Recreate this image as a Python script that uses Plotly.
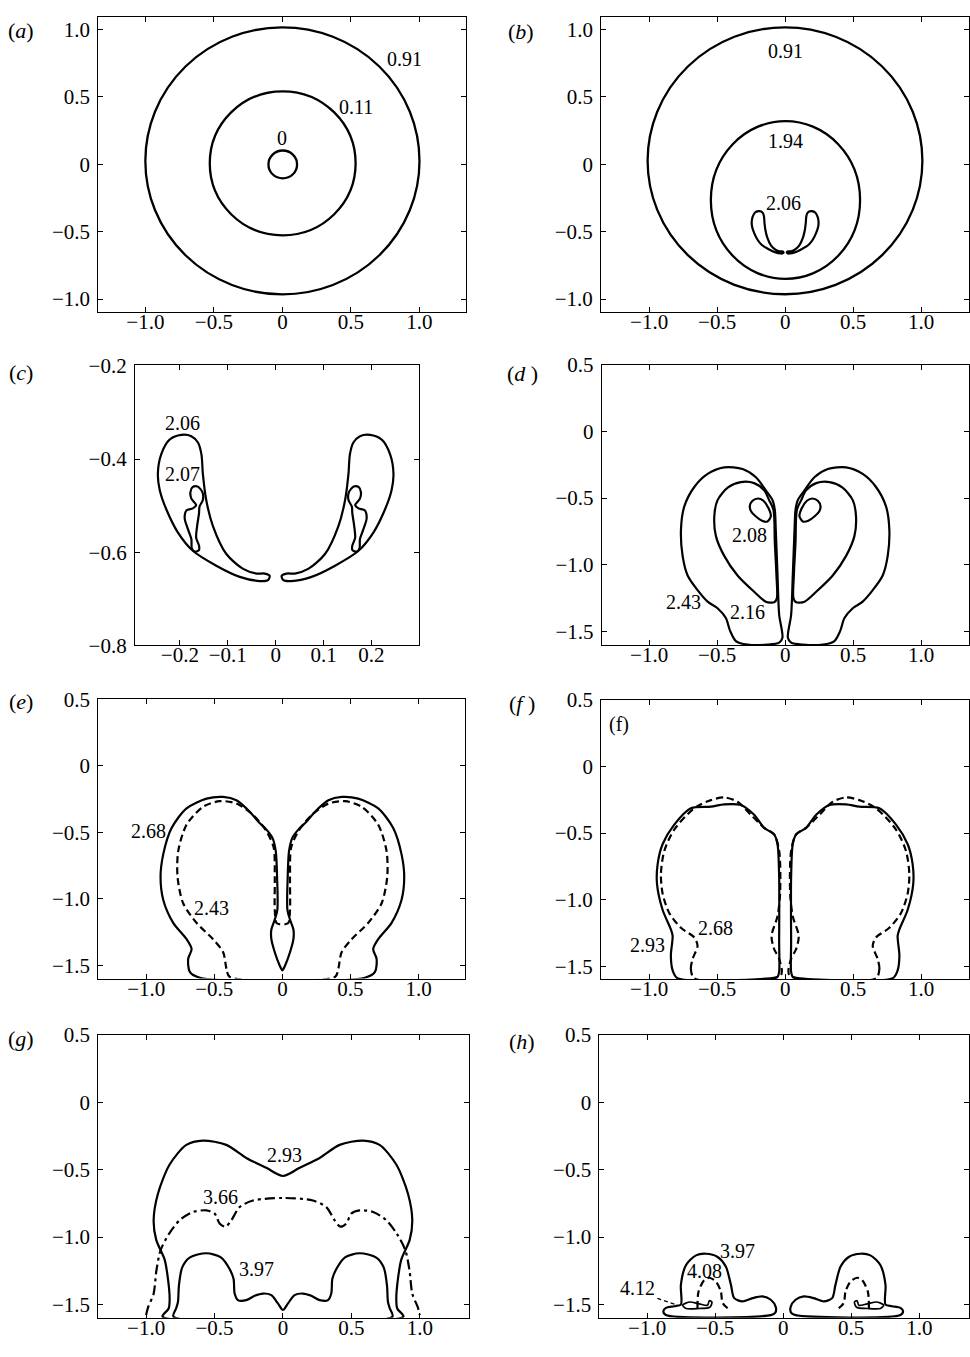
import plotly.graph_objects as go

W, H = 970, 1357
FONT = "Liberation Serif"

# ---------------------------------------------------------------------------
# Contour data (x, y).  Symmetric fronts are stored as their left half only;
# the right half is the mirror image x -> -x.
# ---------------------------------------------------------------------------

# (a) circular contours: x0, x1, y0, y1
a_circle_091 = [-1.000, 1.000, -0.965, 1.015]
a_circle_011 = [-0.530, 0.534, -0.527, 0.541]
a_circle_000 = [-0.102, 0.107, -0.104, 0.102]

# (b) circular contours
b_circle_091 = [-1.011, 1.009, -0.964, 1.015]
b_circle_194 = [-0.546, 0.551, -0.850, 0.320]

# (c) level 2.06, left lobe (also drawn in (b))
c206_x = [-0.197, -0.221, -0.239, -0.246, -0.242, -0.228, -0.204, -0.173, -0.124, -0.075,
          -0.033, -0.016, -0.0125, -0.023, -0.040, -0.068, -0.103, -0.131, -0.145, -0.152,
          -0.155, -0.162, -0.176, -0.197]
c206_y = [-0.348, -0.358, -0.390, -0.432, -0.467, -0.509, -0.558, -0.597, -0.629, -0.653,
          -0.662, -0.660, -0.651, -0.646, -0.646, -0.636, -0.604, -0.544, -0.488, -0.432,
          -0.390, -0.365, -0.351, -0.348]
# (c) level 2.07, left lobe
c207_x = [-0.163, -0.153, -0.152, -0.159, -0.160, -0.164, -0.166, -0.160, -0.160, -0.169,
          -0.175, -0.176, -0.183, -0.190, -0.186, -0.173, -0.166, -0.176, -0.178, -0.173, -0.163]
c207_y = [-0.459, -0.471, -0.488, -0.502, -0.516, -0.544, -0.569, -0.586, -0.595, -0.599,
          -0.592, -0.572, -0.551, -0.527, -0.510, -0.506, -0.499, -0.485, -0.471, -0.460, -0.459]

# (d) levels 2.43, 2.16, 2.08 (left lobes)
d243_x = [-0.020, -0.044, -0.056, -0.069, -0.076, -0.093, -0.142, -0.215, -0.313, -0.448,
          -0.570, -0.668, -0.742, -0.766, -0.754, -0.717, -0.644, -0.570, -0.497, -0.436,
          -0.404, -0.362, -0.277, -0.130, -0.044, -0.020]
d243_y = [-1.546, -1.374, -1.080, -0.736, -0.589, -0.515, -0.442, -0.344, -0.282, -0.270,
          -0.319, -0.417, -0.564, -0.736, -0.933, -1.080, -1.190, -1.276, -1.325, -1.399,
          -1.497, -1.571, -1.598, -1.598, -1.583, -1.546]
d216_x = [-0.326, -0.420, -0.497, -0.521, -0.509, -0.448, -0.350, -0.228, -0.142, -0.081,
          -0.061, -0.064, -0.076, -0.086, -0.118, -0.154, -0.228, -0.326]
d216_y = [-0.380, -0.420, -0.515, -0.638, -0.785, -0.933, -1.080, -1.202, -1.276, -1.281,
          -1.251, -1.080, -0.834, -0.589, -0.515, -0.442, -0.388, -0.380]
d208_x = [-0.260, -0.240, -0.200, -0.160, -0.120, -0.105, -0.130, -0.170, -0.215, -0.250, -0.260]
d208_y = [-0.560, -0.520, -0.503, -0.520, -0.580, -0.635, -0.675, -0.670, -0.638, -0.600, -0.560]

# (e) level 2.68 (solid) and 2.43 (dashed): bottom-left -> centre line
e268_x = [-0.606, -0.680, -0.692, -0.667, -0.704, -0.802, -0.875, -0.895, -0.875, -0.814,
          -0.704, -0.557, -0.435, -0.338, -0.240, -0.178, -0.117, -0.073, -0.049, -0.039,
          -0.037, -0.056, -0.081, -0.081, -0.056, -0.020, 0.000]
e268_y = [-1.592, -1.548, -1.450, -1.376, -1.302, -1.179, -1.007, -0.835, -0.663, -0.467,
          -0.319, -0.246, -0.233, -0.258, -0.344, -0.418, -0.479, -0.541, -0.639, -0.835,
          -1.081, -1.155, -1.229, -1.302, -1.400, -1.499, -1.536]
e243_x = [-0.387, -0.411, -0.435, -0.509, -0.631, -0.729, -0.770, -0.765, -0.704, -0.582,
          -0.460, -0.338, -0.215, -0.117, -0.064, -0.056, -0.056, -0.044, -0.020]
e243_y = [-1.585, -1.523, -1.400, -1.302, -1.179, -1.032, -0.835, -0.639, -0.442, -0.307,
          -0.265, -0.283, -0.369, -0.491, -0.614, -0.835, -1.081, -1.179, -1.190]

# (f) level 2.93 (solid) and 2.68 (dashed), left lobes
f293_x = [-0.791, -0.827, -0.840, -0.827, -0.840, -0.901, -0.942, -0.937, -0.901, -0.815,
          -0.693, -0.546, -0.448, -0.326, -0.228, -0.154, -0.081, -0.056, -0.044, -0.044,
          -0.044, -0.056, -0.105, -0.791]
f293_y = [-1.588, -1.529, -1.418, -1.271, -1.222, -1.075, -0.879, -0.731, -0.584, -0.437,
          -0.314, -0.302, -0.285, -0.290, -0.363, -0.461, -0.510, -0.584, -0.829, -1.320,
          -1.541, -1.578, -1.588, -1.588]
f268_x = [-0.668, -0.693, -0.680, -0.644, -0.668, -0.766, -0.852, -0.901, -0.913, -0.888,
          -0.815, -0.668, -0.546, -0.448, -0.350, -0.252, -0.154, -0.081, -0.044, -0.037,
          -0.056, -0.100, -0.081, -0.044, -0.032, -0.668]
f268_y = [-1.590, -1.517, -1.443, -1.345, -1.283, -1.210, -1.099, -0.952, -0.805, -0.633,
          -0.474, -0.314, -0.253, -0.233, -0.265, -0.363, -0.461, -0.510, -0.633, -0.952,
          -1.124, -1.271, -1.369, -1.443, -1.566, -1.590]

# (g) levels 2.93 (solid), 3.66 (dash-dot), 3.97 (solid): bottom-left -> centre line
g293_x = [-0.880, -0.835, -0.828, -0.840, -0.865, -0.926, -0.945, -0.914, -0.828, -0.706,
          -0.585, -0.414, -0.268, -0.122, 0.000]
g293_y = [-1.590, -1.530, -1.458, -1.312, -1.166, -1.021, -0.875, -0.680, -0.462, -0.316,
          -0.284, -0.316, -0.413, -0.486, -0.547]
g366_x = [-1.000, -0.985, -0.945, -0.925, -0.895, -0.835, -0.755, -0.658, -0.560, -0.499,
          -0.463, -0.419, -0.377, -0.317, -0.219, 0.000]
g366_y = [-1.578, -1.520, -1.420, -1.250, -1.100, -0.980, -0.875, -0.814, -0.802, -0.826,
          -0.899, -0.923, -0.875, -0.778, -0.729, -0.710]
g397_x = [-0.800, -0.780, -0.767, -0.760, -0.736, -0.682, -0.560, -0.451, -0.390, -0.361,
          -0.353, -0.329, -0.268, -0.207, -0.146, -0.085, -0.037, 0.000]
g397_y = [-1.590, -1.528, -1.480, -1.358, -1.225, -1.152, -1.120, -1.152, -1.237, -1.310,
          -1.419, -1.468, -1.468, -1.436, -1.419, -1.431, -1.492, -1.541]

# (h) levels 3.97 (solid), 4.08 (dashed), 4.12 (solid), left lobes
h397_x = [-0.881, -0.862, -0.800, -0.752, -0.752, -0.715, -0.641, -0.568, -0.482, -0.421,
          -0.384, -0.360, -0.299, -0.225, -0.152, -0.091, -0.054, -0.059, -0.091, -0.862, -0.881]
h397_y = [-1.550, -1.525, -1.513, -1.501, -1.355, -1.209, -1.136, -1.124, -1.148, -1.221,
          -1.355, -1.453, -1.477, -1.453, -1.440, -1.465, -1.520, -1.562, -1.579, -1.579, -1.550]
h408_x = [-0.630, -0.622, -0.580, -0.543, -0.494, -0.458, -0.445, -0.397]
h408_y = [-1.526, -1.404, -1.319, -1.302, -1.331, -1.404, -1.489, -1.538]
h412_x = [-0.739, -0.690, -0.617, -0.556, -0.543, -0.524, -0.539, -0.617, -0.715, -0.739]
h412_y = [-1.506, -1.482, -1.496, -1.506, -1.472, -1.482, -1.521, -1.530, -1.530, -1.506]
h412_leader_x = [-0.925, -0.776]
h412_leader_y = [-1.455, -1.506]

# contour level labels: (text, x, y)
labels = {
    "a": [("0.91", 0.89, 0.78), ("0.11", 0.534, 0.425), ("0", 0.0, 0.194)],
    "b": [("0.91", 0.0, 0.837), ("1.94", 0.0, 0.17), ("2.06", -0.01, -0.29)],
    "c": [("2.06", -0.195, -0.323), ("2.07", -0.195, -0.433)],
    "d": [("2.08", -0.264, -0.773), ("2.43", -0.747, -1.276), ("2.16", -0.277, -1.350)],
    "e": [("2.68", -0.987, -0.486), ("2.43", -0.521, -1.069)],
    "f": [("(f)", -1.218, 0.312), ("2.93", -1.011, -1.340), ("2.68", -0.514, -1.210)],
    "g": [("2.93", 0.012, -0.389), ("3.66", -0.458, -0.705), ("3.97", -0.195, -1.239)],
    "h": [("3.97", -0.335, -1.107), ("4.08", -0.580, -1.253), ("4.12", -1.070, -1.377)],
}

# tick positions and labels
wide_ticks = [-1.0, -0.5, 0.0, 0.5, 1.0]
wide_text = ["\u22121.0", "\u22120.5", "0", "0.5", "1.0"]
tall_ticks = [-1.5, -1.0, -0.5, 0.0, 0.5]
tall_text = ["\u22121.5", "\u22121.0", "\u22120.5", "0", "0.5"]
c_xticks = [-0.2, -0.1, 0.0, 0.1, 0.2]
c_xtext = ["\u22120.2", "\u22120.1", "0", "0.1", "0.2"]
c_yticks = [-0.8, -0.6, -0.4, -0.2]
c_ytext = ["\u22120.8", "\u22120.6", "\u22120.4", "\u22120.2"]

# ---------------------------------------------------------------------------
# Layout of the eight panels (pixel boxes: left, right, top, bottom)
# ---------------------------------------------------------------------------
panels = ["a", "b", "c", "d", "e", "f", "g", "h"]
box = {
    "a": (98.3, 466.7, 4.7, 305.3),
    "b": (601.7, 969.5, 4.7, 305.3),
    "c": (135.0, 419.3, 359.3, 644.7),
    "d": (602.3, 969.5, 359.0, 644.7),
    "e": (98.3, 465.7, 699.3, 984.0),
    "f": (601.7, 969.5, 700.0, 984.7),
    "g": (98.3, 469.3, 1041.3, 1329.3),
    "h": (600.0, 969.5, 1041.3, 1329.3),
}
ranges = {
    "a": ([-1.344, 1.341], [-1.095, 1.095]),
    "b": ([-1.353, 1.348], [-1.095, 1.095]),
    "c": ([-0.294, 0.299], [-0.800, -0.198]),
    "d": ([-1.349, 1.348], [-1.603, 0.500]),
    "e": ([-1.353, 1.343], [-1.598, 0.503]),
    "f": ([-1.353, 1.348], [-1.596, 0.500]),
    "g": ([-1.350, 1.358], [-1.599, 0.500]),
    "h": ([-1.351, 1.362], [-1.599, 0.500]),
}
panel_tag = {
    "a": ("(<i>a</i>)", 21, 19), "b": ("(<i>b</i>)", 522, 20),
    "c": ("(<i>c</i>)", 21, 367), "d": ("(<i>d</i> )", 523, 368),
    "e": ("(<i>e</i>)", 21, 702), "f": ("(<i>f</i> )", 523, 704),
    "g": ("(<i>g</i>)", 21, 1045), "h": ("(<i>h</i>)", 523, 1048),
}

fig = go.Figure()
axis_id = {p: i + 1 for i, p in enumerate(panels)}


def refs(p):
    i = axis_id[p]
    return ("x" if i == 1 else f"x{i}"), ("y" if i == 1 else f"y{i}")


def with_mirror(xs, ys):
    """Left half running to the centre line, continued by its mirror image."""
    if abs(xs[-1]) < 1e-9:
        rx, ry = [-v for v in xs[-2::-1]], ys[-2::-1]
    else:
        rx, ry = [-v for v in xs[::-1]], ys[::-1]
    return xs + rx, ys + ry


def curve(p, xs, ys, dash="solid", width=2.2):
    xr, yr = refs(p)
    fig.add_trace(go.Scatter(
        x=xs, y=ys, mode="lines", xaxis=xr, yaxis=yr, showlegend=False,
        hoverinfo="skip",
        line=dict(color="black", width=width, dash=dash, shape="spline", smoothing=0.8),
    ))


def lobes(p, xs, ys, dash="solid", width=2.2):
    curve(p, xs, ys, dash, width)
    curve(p, [-v for v in xs], ys, dash, width)


def circle(p, c):
    xr, yr = refs(p)
    fig.add_shape(type="circle", xref=xr, yref=yr, x0=c[0], x1=c[1], y0=c[2], y1=c[3],
                  line=dict(color="black", width=2.3))


DASH = "7px,4px"
DASHDOT = "10px,4px,3px,4px"

# (a)
for c in (a_circle_091, a_circle_011, a_circle_000):
    circle("a", c)
# (b)
for c in (b_circle_091, b_circle_194):
    circle("b", c)
lobes("b", c206_x, c206_y)
# (c)
lobes("c", c206_x, c206_y)
lobes("c", c207_x, c207_y)
# (d)
lobes("d", d243_x, d243_y)
lobes("d", d216_x, d216_y)
lobes("d", d208_x, d208_y)
# (e)
ex, ey = with_mirror(e268_x, e268_y)
curve("e", ex + [ex[0]], ey + [ey[0]])
ex, ey = with_mirror(e243_x, e243_y)
curve("e", ex + [ex[0]], ey + [ey[0]], dash=DASH)
# (f)
lobes("f", f293_x, f293_y)
lobes("f", f268_x, f268_y, dash=DASH)
# (g)
gx, gy = with_mirror(g293_x, g293_y)
curve("g", gx + [gx[0]], gy + [gy[0]])
gx, gy = with_mirror(g366_x, g366_y)
curve("g", gx, gy, dash=DASHDOT)
gx, gy = with_mirror(g397_x, g397_y)
curve("g", gx + [gx[0]], gy + [gy[0]])
# (h)
lobes("h", h397_x, h397_y)
lobes("h", h408_x, h408_y, dash=DASH)
lobes("h", h412_x, h412_y, width=1.7)
curve("h", h412_leader_x, h412_leader_y, dash="4px,3px", width=1.4)

# axes
layout = dict(width=W, height=H, margin=dict(l=0, r=0, t=0, b=0),
              paper_bgcolor="white", plot_bgcolor="white", showlegend=False,
              font=dict(family=FONT, size=20, color="black"))
annotations = []
for p in panels:
    i = axis_id[p]
    L, R, T, B = box[p]
    xr, yr = refs(p)
    if p == "c":
        xt, xtt, yt, ytt = c_xticks, c_xtext, c_yticks, c_ytext
    elif p in ("a", "b"):
        xt, xtt, yt, ytt = wide_ticks, wide_text, wide_ticks, wide_text
    else:
        xt, xtt, yt, ytt = wide_ticks, wide_text, tall_ticks, tall_text
    common = dict(showline=True, linecolor="black", linewidth=1, mirror="ticks",
                  ticks="inside", ticklen=5, tickwidth=1, tickcolor="black",
                  showgrid=False, zeroline=False, fixedrange=True,
                  tickfont=dict(family=FONT, size=21, color="black"))
    layout["xaxis" if i == 1 else f"xaxis{i}"] = dict(
        common, domain=[L / W, R / W], range=ranges[p][0], anchor=yr,
        tickvals=xt, ticktext=xtt, ticklabelstandoff=-9)
    layout["yaxis" if i == 1 else f"yaxis{i}"] = dict(
        common, domain=[1 - B / H, 1 - T / H], range=ranges[p][1], anchor=xr,
        tickvals=yt, ticktext=ytt, ticklabelstandoff=3)
    for text, lx, ly in labels[p]:
        annotations.append(dict(text=text, x=lx, y=ly, xref=xr, yref=yr, showarrow=False,
                                font=dict(family=FONT, size=20, color="black")))
    tag, px, py = panel_tag[p]
    annotations.append(dict(text=tag, x=px / W, y=1 - py / H, xref="paper", yref="paper",
                            showarrow=False, xanchor="center", yanchor="middle",
                            font=dict(family=FONT, size=22, color="black")))
layout["annotations"] = annotations
fig.update_layout(**layout)
fig.write_html("out.html")
